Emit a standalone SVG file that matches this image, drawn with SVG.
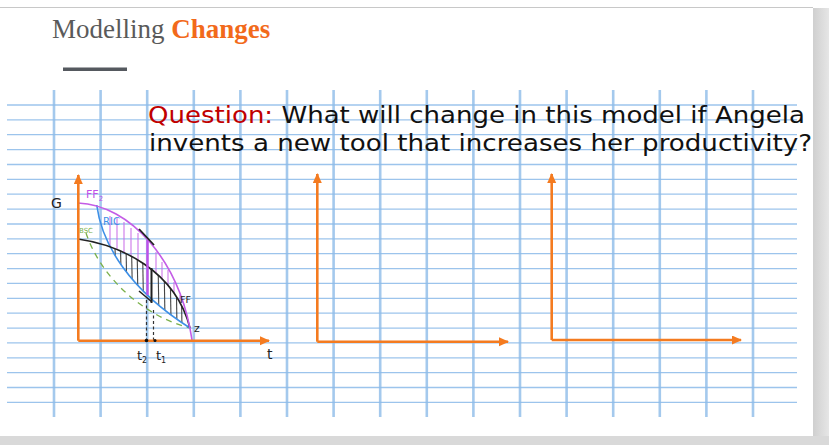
<svg xmlns="http://www.w3.org/2000/svg" width="829" height="445" viewBox="0 0 829 445">
<defs>
<linearGradient id="shR" x1="0" y1="0" x2="1" y2="0"><stop offset="0" stop-color="#cfcfcf"/><stop offset="1" stop-color="#e6e6e6"/></linearGradient>
<marker id="ar" markerUnits="userSpaceOnUse" markerWidth="12" markerHeight="10" refX="9" refY="4.5" orient="auto"><path d="M0,0 L10,4.5 L0,9 Z" fill="#f47b20"/></marker>
<clipPath id="cBlack"><polygon points="110.8,247.3 117.9,249.9 131.2,256.2 144.1,264 156.2,273.3 167.2,284.4 176.6,297 184.3,311.5 190,328 173,316.4 157.8,304.4 144.4,292.2 132.8,279.8 122.8,267.3 114.6,254.6"/></clipPath>
<clipPath id="cPurple"><polygon points="97.3,207.6 108.6,210.3 123.3,218.3 137.1,229.1 150,242.3 161.7,257.7 172,275.5 180.5,295.2 187.3,316.8 190,328 184.3,311.5 176.6,297 167.2,284.4 156.2,273.3 144.1,264 131.2,256.2 117.9,249.9 110.8,247.3 107.9,242 102.7,229.5 99,217"/></clipPath>
</defs>
<style>
.vg{stroke:#8dbbe8;stroke-width:2.6;stroke-opacity:0.8}
.hg{stroke:#9cc4ec;stroke-width:1.3}
.ax{stroke:#f47b20;stroke-width:2.6;fill:none;marker-end:url(#ar)}
.hand{font-family:"DejaVu Sans","Noto Sans",sans-serif}
.q{font-family:"DejaVu Sans","Noto Sans",sans-serif;font-size:23px;fill:#111}
</style>
<rect x="0" y="0" width="829" height="445" fill="#ffffff"/>
<rect x="813" y="8" width="16" height="437" fill="url(#shR)"/>
<rect x="0" y="436" width="829" height="9" fill="#d9d9d9"/>
<line x1="0" y1="7.5" x2="813" y2="7.5" stroke="#c8c8c8" stroke-width="1.2"/>

<g id="title">
<text x="52" y="38" font-family="Liberation Serif, serif" font-size="27" fill="#5a5a5a">Modelling <tspan font-weight="bold" fill="#f26a1b">Changes</tspan></text>
<rect x="63" y="67.5" width="64" height="3.5" fill="#55595f"/>
</g>

<g id="grid">
<line class="hg" x1="7" y1="105" x2="797" y2="105"/>
<line class="hg" x1="7" y1="119.9" x2="797" y2="119.9"/>
<line class="hg" x1="7" y1="134.7" x2="797" y2="134.7"/>
<line class="hg" x1="7" y1="149.6" x2="797" y2="149.6"/>
<line class="hg" x1="7" y1="164.5" x2="797" y2="164.5"/>
<line class="hg" x1="7" y1="179.4" x2="797" y2="179.4"/>
<line class="hg" x1="7" y1="194.2" x2="797" y2="194.2"/>
<line class="hg" x1="7" y1="209.1" x2="797" y2="209.1"/>
<line class="hg" x1="7" y1="224" x2="797" y2="224"/>
<line class="hg" x1="7" y1="238.8" x2="797" y2="238.8"/>
<line class="hg" x1="7" y1="253.7" x2="797" y2="253.7"/>
<line class="hg" x1="7" y1="268.6" x2="797" y2="268.6"/>
<line class="hg" x1="7" y1="283.4" x2="797" y2="283.4"/>
<line class="hg" x1="7" y1="298.3" x2="797" y2="298.3"/>
<line class="hg" x1="7" y1="313.2" x2="797" y2="313.2"/>
<line class="hg" x1="7" y1="328.1" x2="797" y2="328.1"/>
<line class="hg" x1="7" y1="342.9" x2="797" y2="342.9"/>
<line class="hg" x1="7" y1="357.8" x2="797" y2="357.8"/>
<line class="hg" x1="7" y1="372.7" x2="797" y2="372.7"/>
<line class="hg" x1="7" y1="387.5" x2="797" y2="387.5"/>
<line class="hg" x1="7" y1="402.4" x2="797" y2="402.4"/>
<line class="vg" x1="54" y1="90" x2="54" y2="417"/>
<line class="vg" x1="100.6" y1="90" x2="100.6" y2="417"/>
<line class="vg" x1="147.2" y1="90" x2="147.2" y2="417"/>
<line class="vg" x1="193.8" y1="90" x2="193.8" y2="417"/>
<line class="vg" x1="240.4" y1="90" x2="240.4" y2="417"/>
<line class="vg" x1="287" y1="90" x2="287" y2="417"/>
<line class="vg" x1="333.6" y1="90" x2="333.6" y2="417"/>
<line class="vg" x1="380.2" y1="90" x2="380.2" y2="417"/>
<line class="vg" x1="426.8" y1="90" x2="426.8" y2="417"/>
<line class="vg" x1="473.4" y1="90" x2="473.4" y2="417"/>
<line class="vg" x1="520" y1="90" x2="520" y2="417"/>
<line class="vg" x1="566.6" y1="90" x2="566.6" y2="417"/>
<line class="vg" x1="613.2" y1="90" x2="613.2" y2="417"/>
<line class="vg" x1="659.8" y1="90" x2="659.8" y2="417"/>
<line class="vg" x1="706.4" y1="90" x2="706.4" y2="417"/>
<line class="vg" x1="753" y1="90" x2="753" y2="417"/>
</g>

<g id="question">
<text class="q" x="148" y="123" textLength="657" lengthAdjust="spacingAndGlyphs"><tspan fill="#c00000">Question:</tspan> What will change in this model if Angela</text>
<text class="q" x="149" y="151" textLength="663" lengthAdjust="spacingAndGlyphs">invents a new tool that increases her productivity?</text>
</g>

<g id="graph-left">
<g clip-path="url(#cPurple)" stroke="#c96be8" stroke-width="1.2" stroke-opacity="0.85">
<line x1="110" y1="216" x2="110" y2="246"/><line x1="117" y1="218" x2="117" y2="250"/><line x1="124" y1="222" x2="124" y2="255"/><line x1="131" y1="228" x2="131" y2="258"/><line x1="138" y1="233" x2="138" y2="262"/><line x1="156" y1="252" x2="156" y2="275"/><line x1="162" y1="262" x2="162" y2="282"/><line x1="168" y1="270" x2="168" y2="290"/><line x1="174" y1="282" x2="174" y2="300"/><line x1="180" y1="295" x2="180" y2="312"/>
</g>
<g clip-path="url(#cBlack)" stroke="#444" stroke-width="1.1">
<line x1="115" y1="245" x2="116" y2="300"/><line x1="120.5" y1="245" x2="121.5" y2="300"/><line x1="126" y1="245" x2="127" y2="300"/><line x1="131.5" y1="245" x2="132.5" y2="300"/><line x1="137" y1="245" x2="138" y2="300"/><line x1="142.5" y1="245" x2="143.5" y2="305"/><line x1="158" y1="260" x2="159" y2="320"/><line x1="164" y1="260" x2="165" y2="320"/><line x1="170" y1="260" x2="171" y2="320"/><line x1="176" y1="260" x2="177" y2="330"/><line x1="181" y1="260" x2="182" y2="330"/>
</g>
<path d="M86,233 C100,275 140,315 190,328" fill="none" stroke="#7ab04a" stroke-width="1.3" stroke-dasharray="6,5"/>
<path d="M96.7,205 C102,245 130,290 190,328" fill="none" stroke="#3d8fe6" stroke-width="1.6"/>
<path d="M78,239 C120,245 175,270 190,328" fill="none" stroke="#222" stroke-width="1.6"/>
<path d="M78,203 C130,205 180,260 192,340" fill="none" stroke="#c45ce6" stroke-width="1.6"/>
<line x1="147.5" y1="240" x2="147.5" y2="295" stroke="#c050e8" stroke-width="2.4"/>
<line x1="151.5" y1="268" x2="151.5" y2="303" stroke="#222" stroke-width="2"/>
<line x1="139" y1="229" x2="154" y2="245" stroke="#222" stroke-width="1.8"/>
<line x1="139" y1="291" x2="152" y2="302" stroke="#222" stroke-width="1.6"/>
<line x1="146.5" y1="300" x2="146.5" y2="340" stroke="#333" stroke-width="1.2" stroke-dasharray="3,2.5"/>
<line x1="153.5" y1="310" x2="153.5" y2="340" stroke="#333" stroke-width="1.2" stroke-dasharray="3,2.5"/>
<path class="ax" d="M78.3,340.7 L78.3,175"/>
<path class="ax" d="M78.3,340.7 L269,340.7"/>
<circle cx="146.5" cy="340.5" r="1.8" fill="#111"/>
<circle cx="155" cy="340.5" r="1.5" fill="#111"/>
<text class="hand" x="51" y="208" font-size="14" fill="#222">G</text>
<text class="hand" x="86" y="198" font-size="11" fill="#c050e8">FF<tspan font-size="7" dy="3">2</tspan></text>
<text class="hand" x="103" y="225" font-size="10" fill="#3d8fe6">RIC</text>
<text class="hand" x="79" y="233" font-size="7" fill="#7ab04a">BSC</text>
<text class="hand" x="180" y="303" font-size="9.5" fill="#222">FF</text>
<text class="hand" x="194" y="332" font-size="11" fill="#222">z</text>
<text class="hand" x="137" y="360" font-size="13" fill="#222">t<tspan font-size="8" dy="3">2</tspan></text>
<text class="hand" x="156" y="360" font-size="13" fill="#222">t<tspan font-size="8" dy="3">1</tspan></text>
<text class="hand" x="267" y="359" font-size="14" fill="#222">t</text>
</g>

<g id="graph-middle">
<path class="ax" d="M317.3,341.7 L317.3,174"/>
<path class="ax" d="M317.3,341.7 L508,341.7"/>
</g>

<g id="graph-right">
<path class="ax" d="M551.7,340 L551.7,174"/>
<path class="ax" d="M551.7,340 L741,340"/>
</g>
</svg>
